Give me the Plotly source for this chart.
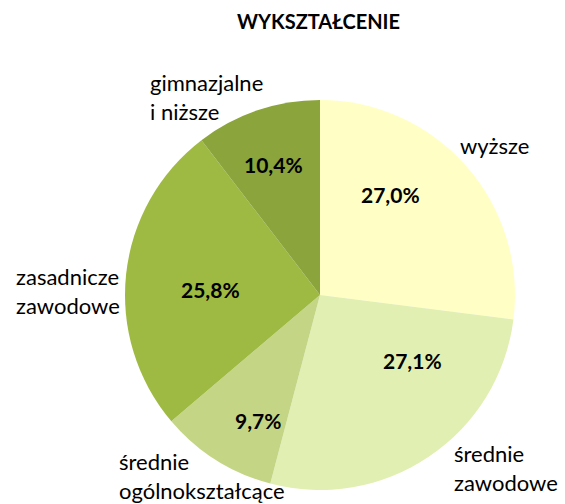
import plotly.graph_objects as go

categories = ["wyższe", "średnie zawodowe", "średnie ogólnokształcące",
              "zasadnicze zawodowe", "gimnazjalne i niższe"]
shares = [27.0, 27.1, 9.7, 25.8, 10.4]
label_lines = ["wyższe", "średnie<br>zawodowe", "średnie<br>ogólnokształcące",
               "zasadnicze<br>zawodowe", "gimnazjalne<br>i niższe"]
colors = ["#FFFFC5", "#E2EFB3", "#C4D686", "#9EBA42", "#8BA43B"]

W, H = 565, 504
cx, cy, r = 320, 295, 195

pct_text = [f"{v:.1f}%".replace(".", ",") for v in shares]

fig = go.Figure(go.Pie(
    labels=categories, values=shares, sort=False, direction="clockwise",
    rotation=0, marker=dict(colors=colors, line=dict(width=0)),
    textinfo="none",
    domain=dict(x=[(cx - r) / W, (cx + r) / W], y=[(H - cy - r) / H, (H - cy + r) / H]),
    hoverinfo="label+percent", showlegend=False,
))

# percentage label centres (px)
pct_pos = [(390, 195), (412, 360), (258, 420), (210, 289), (273, 165)]
for txt, (x, y) in zip(pct_text, pct_pos):
    fig.add_annotation(text=f"<b>{txt}</b>", x=x / W, y=1 - y / H, xref="paper", yref="paper",
                       xanchor="center", yanchor="middle", showarrow=False,
                       font=dict(family="Lato", size=21, color="black"))

# outside category label positions (left edge x, centre y in px)
label_pos = [(458, 145), (452, 468), (117, 476), (14, 291), (148, 97)]
for txt, (x, y) in zip(label_lines, label_pos):
    fig.add_annotation(text=txt, x=x / W, y=1 - y / H, xref="paper", yref="paper",
                       xanchor="left", yanchor="middle", align="left", showarrow=False,
                       font=dict(family="Lato", size=22, color="black"))

fig.add_annotation(text="<b>WYKSZTAŁCENIE</b>", x=318.5 / W, y=1 - 21 / H,
                   xref="paper", yref="paper", showarrow=False,
                   xanchor="center", yanchor="middle",
                   font=dict(family="Lato", size=20, color="black"))

fig.update_layout(width=W, height=H, margin=dict(l=0, r=0, t=0, b=0),
                  paper_bgcolor="white", plot_bgcolor="white")
fig.write_html("out.html", config={"displayModeBar": False},
               post_script="document.body.style.margin='0';")
